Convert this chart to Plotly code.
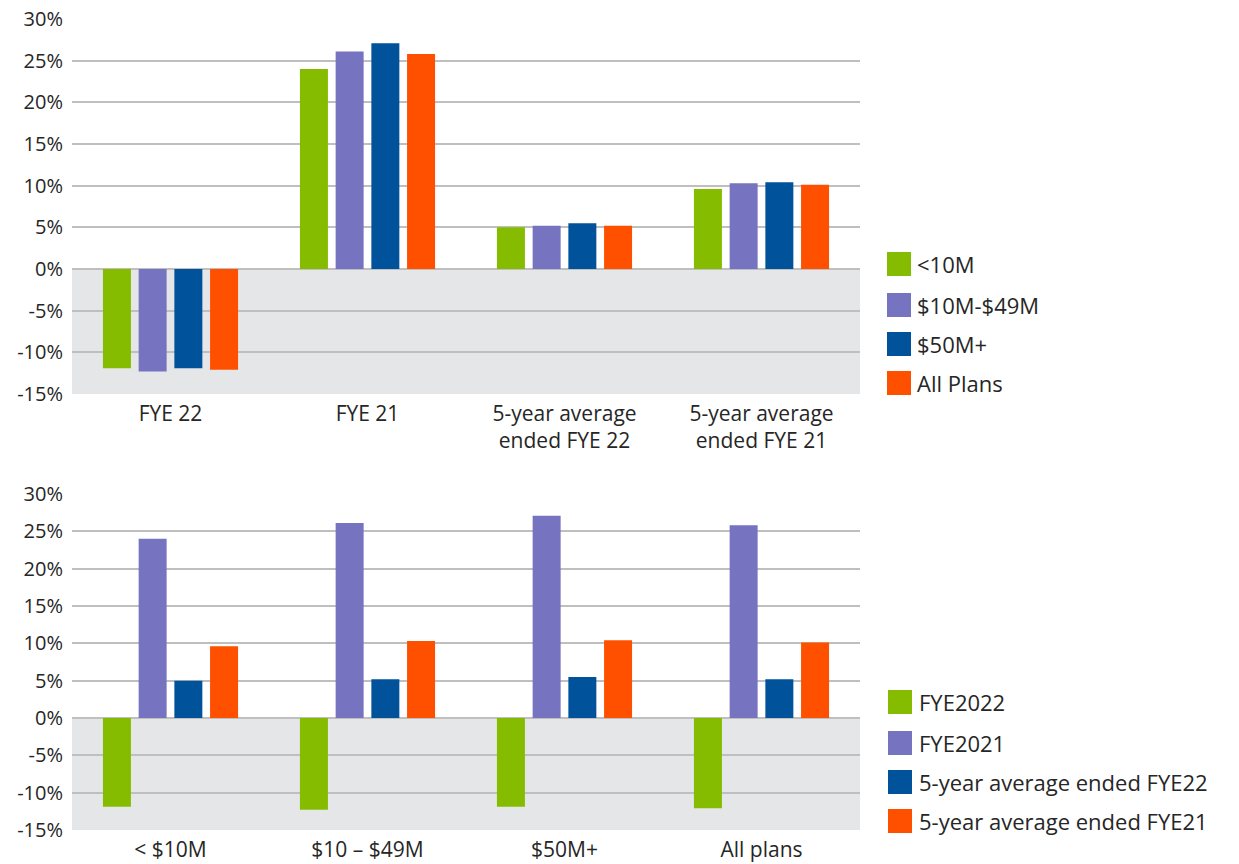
import plotly.graph_objects as go
from plotly.subplots import make_subplots

# Plan-size groups (top chart series / bottom chart categories)
size_groups = ["<10M", "$10M-$49M", "$50M+", "All Plans"]
size_labels_bottom = ["< $10M", "$10 \u2013 $49M", "$50M+", "All plans"]

# Return periods (top chart categories / bottom chart series)
period_labels_top = ["FYE 22", "FYE 21", "5-year average<br>ended FYE 22", "5-year average<br>ended FYE 21"]
period_names_bottom = ["FYE2022", "FYE2021", "5-year average ended FYE22", "5-year average ended FYE21"]

# Returns (%) by period, one value per size group
fye22 = [-11.9, -12.3, -11.9, -12.1]
fye21 = [24.0, 26.1, 27.1, 25.8]
avg5_fye22 = [5.0, 5.2, 5.5, 5.2]
avg5_fye21 = [9.6, 10.3, 10.4, 10.1]

# Y-axis ticks
tick_values = [-15, -10, -5, 0, 5, 10, 15, 20, 25, 30]
tick_labels = ["-15%", "-10%", "-5%", "0%", "5%", "10%", "15%", "20%", "25%", "30%"]

colors = ["#86BC00", "#7673C0", "#00529B", "#FF5000"]

by_period = [fye22, fye21, avg5_fye22, avg5_fye21]

fig = make_subplots(rows=2, cols=1, vertical_spacing=0.1)

# Top: categories are periods, series are plan sizes
for i, name in enumerate(size_groups):
    fig.add_trace(go.Bar(
        x=period_labels_top,
        y=[vals[i] for vals in by_period],
        name=name, marker_color=colors[i], marker_line_width=0,
        showlegend=False,
    ), row=1, col=1)

# Bottom: categories are plan sizes, series are periods
for j, name in enumerate(period_names_bottom):
    fig.add_trace(go.Bar(
        x=size_labels_bottom,
        y=by_period[j],
        name=name, marker_color=colors[j], marker_line_width=0,
        showlegend=False,
    ), row=2, col=1)

font_family = "Open Sans, Noto Sans, sans-serif"
text_color = "#262626"
grid_color = "#BFBFBF"

fig.update_layout(
    width=1239, height=864,
    margin=dict(l=72, r=379, t=0, b=0),
    paper_bgcolor="white", plot_bgcolor="white",
    barmode="group", bargap=0.275, bargroupgap=0.216,
    font=dict(family=font_family, color=text_color, size=20),
)

yaxis_common = dict(
    range=[-15, 30], tickmode="array", tickvals=tick_values, ticktext=tick_labels,
    showgrid=True, gridcolor=grid_color, gridwidth=2,
    zeroline=True, zerolinecolor=grid_color, zerolinewidth=2,
    showline=False, ticks="", automargin=False, ticklabelstandoff=8,
    tickfont=dict(size=20, color=text_color),
)
xaxis_common = dict(
    showgrid=False, showline=False, ticks="", automargin=False,
    ticklabelstandoff=5,
    tickfont=dict(size=21, color=text_color),
)

fig.update_layout(
    yaxis=dict(domain=[1 - 394 / 864, 1 - 19 / 864], **yaxis_common),
    yaxis2=dict(domain=[1 - 830 / 864, 1 - 494 / 864], **yaxis_common),
    xaxis=dict(domain=[0, 1], **xaxis_common),
    xaxis2=dict(domain=[0, 1], **xaxis_common),
)

# Light gray band behind the negative region of each chart
for xr, yr in [("x domain", "y"), ("x2 domain", "y2")]:
    fig.add_shape(type="rect", xref=xr, yref=yr, x0=0, x1=1, y0=-15, y1=0,
                  fillcolor="#E5E6E8", line_width=0, layer="below")

# Legends drawn as colour swatches with text beside them
W, H = 1239, 864
PW = W - 72 - 379


def add_legend(names, centers_px, sq_left, text_left):
    for name, color, cy in zip(names, colors, centers_px):
        fig.add_shape(type="rect", xref="paper", yref="paper",
                      x0=(sq_left - 72) / PW, x1=(sq_left + 24 - 72) / PW,
                      y0=1 - (cy + 12) / H, y1=1 - (cy - 12) / H,
                      fillcolor=color, line_width=0)
        fig.add_annotation(xref="paper", yref="paper",
                           x=(text_left - 72) / PW, y=1 - cy / H,
                           text=name, showarrow=False, xanchor="left", yanchor="middle",
                           font=dict(size=22, color=text_color, family=font_family))


add_legend(size_groups, [264, 305, 344, 383], 887, 915)
add_legend(period_names_bottom, [702, 743, 782, 821], 888, 917)

fig.write_html("out.html")
